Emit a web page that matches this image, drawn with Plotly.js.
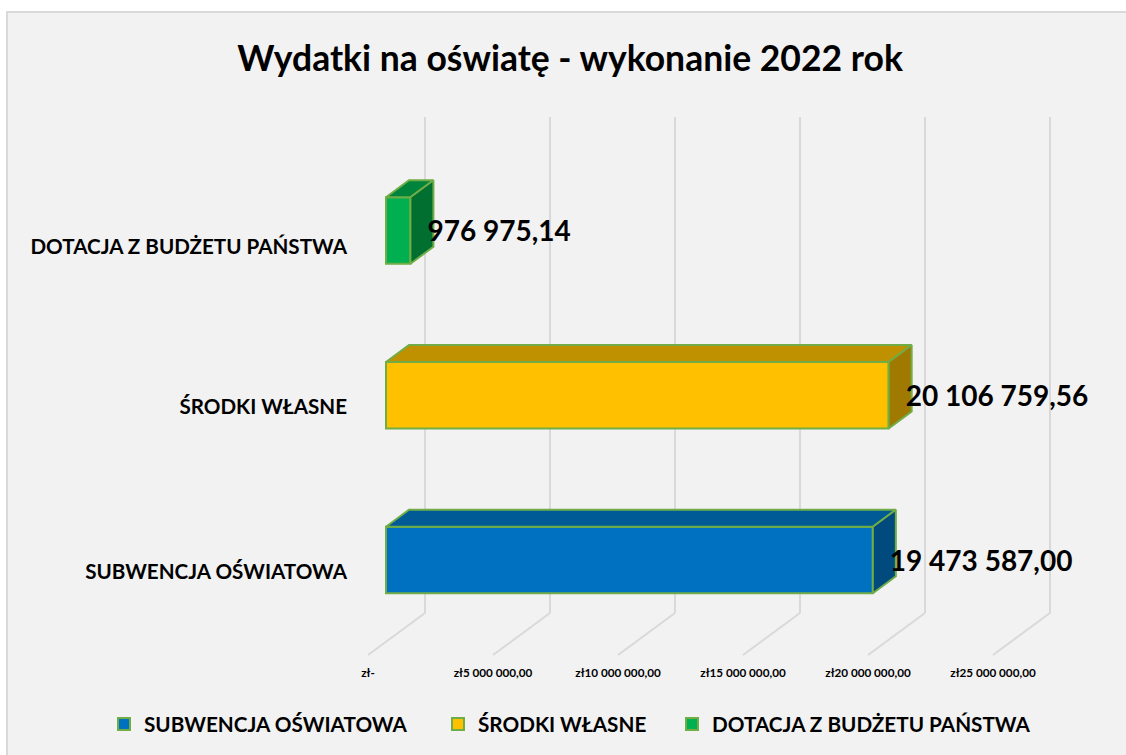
<!DOCTYPE html>
<html><head><meta charset="utf-8">
<script src="https://cdn.plot.ly/plotly-3.0.1.min.js"></script>
<style>html,body{margin:0;padding:0;background:#fff}#c{width:1126px;height:755px}</style>
</head><body><div id="c"></div>
<script>
const categories = ['SUBWENCJA OŚWIATOWA','ŚRODKI WŁASNE','DOTACJA Z BUDŻETU PAŃSTWA'];
const values = [19473587.00, 20106759.56, 976975.14];
const valueLabels = ['19 473 587,00','20 106 759,56','976 975,14'];
const tickValues = [0,5000000,10000000,15000000,20000000,25000000];
const tickLabels = ['zł-','zł5 000 000,00','zł10 000 000,00','zł15 000 000,00','zł20 000 000,00','zł25 000 000,00'];
const frontColors = ['#0070c0','#ffc000','#00b050'];
const topColors = ['#005a96','#bf9000','#00843c'];
const sideColors = ['#004a7e','#a07a00','#006f30'];
const edgeColor = '#70ad47';
const gridColor = '#d9d9d9';
const font = 'Lato, Carlito, Calibri, sans-serif';

// Pixel scale of the page
const W = 1126, H = 755;
const mL = 348, mR = 0, mT = 110, mB = 91;
const pxPerUnitX = 25 / 1e6;      // 125 px per 5 000 000
const pxPerUnitY = 164.75;        // between neighbouring bars
const originX = 368, originY = 560;
const dx = px => px / pxPerUnitX;
const dy = px => px / pxPerUnitY;

// 3D projection offsets
const barFrontX = dx(18), barDepthX = dx(23), barDepthY = dy(17);
const wallX = dx(57), barH = dy(66.5);
const floorFrontY = dy(originY - 655), floorBackY = dy(originY - 613), wallTopY = dy(originY - 117);
const labelGapX = dx(17), labelDropY = dy(3.5);
const catTicks = [dy(-12), 1 + dy(-12), 2 + dy(-16.5)];

const traces = [];
// front faces: real bars, drawn first
categories.forEach((c,i)=>{
  traces.push({type:'bar',orientation:'h',name:c,y:[i],x:[values[i]],base:[barFrontX],
    width:[barH],offset:[-barH/2],
    marker:{color:frontColors[i],line:{color:edgeColor,width:2}},
    legendwidth:[289,189,340][i],hoverinfo:'name+x'});
});
// top and side faces
categories.forEach((c,i)=>{
  const xf = barFrontX + values[i], x0 = barFrontX;
  const yt = i + barH/2, yb = i - barH/2;
  traces.push({type:'scatter',mode:'lines',showlegend:false,hoverinfo:'skip',fill:'toself',fillcolor:topColors[i],
    line:{color:edgeColor,width:2},
    x:[x0,xf,xf+barDepthX,x0+barDepthX,x0],y:[yt,yt,yt+barDepthY,yt+barDepthY,yt]});
  traces.push({type:'scatter',mode:'lines',showlegend:false,hoverinfo:'skip',fill:'toself',fillcolor:sideColors[i],
    line:{color:edgeColor,width:2},
    x:[xf,xf+barDepthX,xf+barDepthX,xf,xf],y:[yt,yt+barDepthY,yb+barDepthY,yb,yt]});
});
// value labels
traces.push({type:'scatter',mode:'text',showlegend:false,hoverinfo:'skip',
  x:values.map(v=>barFrontX+v+labelGapX),y:categories.map((c,i)=>i-labelDropY),text:valueLabels,
  textposition:'middle right',textfont:{family:font,size:28,color:'#000',weight:700}});

// wall + floor grid lines, behind everything
const shapes = [{type:'rect',xref:'paper',yref:'paper',layer:'below',
  x0:-mL/(W-mL-mR)+7/(W-mL-mR),x1:1.02,y0:-0.3,y1:(H-mB-12)/(H-mT-mB),
  fillcolor:'#f2f2f2',line:{color:gridColor,width:2}}];
tickValues.forEach(t=>{
  shapes.push({type:'line',layer:'below',xref:'x',yref:'y',x0:t,x1:t+wallX,y0:floorFrontY,y1:floorBackY,line:{color:gridColor,width:2}});
  shapes.push({type:'line',layer:'below',xref:'x',yref:'y',x0:t+wallX,x1:t+wallX,y0:floorBackY,y1:wallTopY,line:{color:gridColor,width:2}});
});

const layout = {
  width:W,height:H,margin:{l:mL,r:mR,t:mT,b:mB,pad:0},
  paper_bgcolor:'#ffffff',plot_bgcolor:'rgba(0,0,0,0)',
  barmode:'overlay',
  title:{text:'Wydatki na oświatę - wykonanie 2022 rok',font:{family:font,size:35.5,color:'#000',weight:700},
    x:570/W,xanchor:'center',xref:'container',y:1-59/H,yanchor:'middle'},
  xaxis:{range:[dx(mL-originX),dx(W-originX)],tickmode:'array',tickvals:tickValues,ticktext:tickLabels,
    showgrid:false,zeroline:false,showline:false,ticks:'',fixedrange:true,
    tickangle:0,tickfont:{family:font,size:11.7,color:'#000',weight:700}},
  yaxis:{range:[dy(originY-(H-mB)),dy(originY-mT)],tickmode:'array',tickvals:catTicks,ticktext:categories,
    showgrid:false,zeroline:false,showline:false,ticks:'',fixedrange:true,
    tickfont:{family:font,size:20.6,color:'#000',weight:700}},
  legend:{orientation:'h',x:(104-mL)/(W-mL),xanchor:'left',y:-(724-(H-mB))/(H-mT-mB),yanchor:'middle',
    bgcolor:'rgba(0,0,0,0)',font:{family:font,size:20.7,color:'#000',weight:700}},
  shapes:shapes,
  showlegend:true
};
Plotly.newPlot('c',traces,layout,{displayModeBar:false,responsive:false});
</script></body></html>
